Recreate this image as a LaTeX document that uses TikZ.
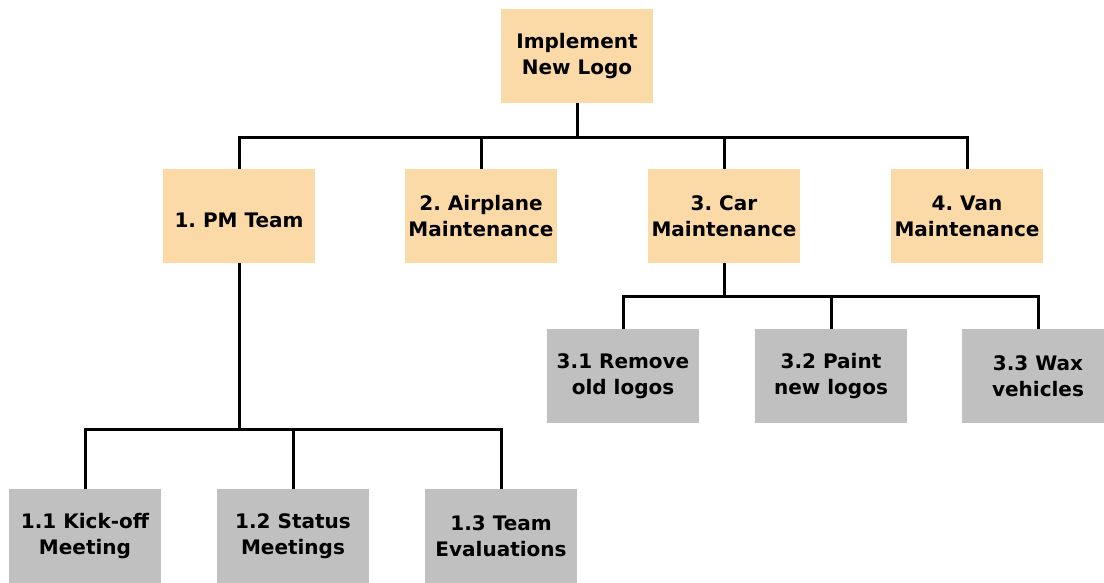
\documentclass[tikz,border=0pt]{standalone}
\usepackage{fontspec}
\setmainfont{DejaVu Sans}
\frenchspacing
\begin{document}
\begin{tikzpicture}[x=1pt,y=-1pt,
  box/.style={minimum width=152pt,minimum height=94pt,inner sep=0pt,
    align=center,font=\fontsize{20}{26}\selectfont\bfseries,
    execute at begin node={\frenchspacing\rule{0pt}{24pt}}},
  topbox/.style={box,fill=tan},
  subbox/.style={box,fill=lightgray},
  link/.style={draw=black,line width=3pt}]
\definecolor{tan}{HTML}{FBDAA7}
\definecolor{lightgray}{HTML}{C0C0C0}
\useasboundingbox (0,0) rectangle (1104,582);
\clip (0,0) rectangle (1104,582);

% root and first level
\node[topbox] (root) at (577,56) {Implement\\New Logo};
\node[topbox] (pm)   at (239,216) {1. PM Team};
\node[topbox] (air)  at (481,216) {2. Airplane\\Maintenance};
\node[topbox] (car)  at (724,216) {3. Car\\Maintenance};
\node[topbox] (van)  at (967,216) {4. Van\\Maintenance};

% car maintenance tasks
\node[subbox] (c1) at (623,376)  {3.1 Remove\\old logos};
\node[subbox] (c2) at (831,376)  {3.2 Paint\\new logos};
\node[subbox] (c3) at (1038,376) {3.3 Wax\\vehicles};

% project management tasks
\node[subbox] (p1) at (85,536)  {1.1 Kick-off\\Meeting};
\node[subbox] (p2) at (293,536) {1.2 Status\\Meetings};
\node[subbox] (p3) at (501,536) {1.3 Team\\Evaluations};

% bus lines
\coordinate (b1) at (0,137);
\coordinate (b2) at (0,296);
\coordinate (b3) at (0,429);

\foreach \c in {pm,air,car,van}
  \draw[link] (root.south) |- (\c.north |- b1) -- (\c.north);
\foreach \c in {c1,c2,c3}
  \draw[link] (car.south) |- (\c.north |- b2) -- (\c.north);
\foreach \c in {p1,p2,p3}
  \draw[link] (pm.south) |- (\c.north |- b3) -- (\c.north);
\end{tikzpicture}
\end{document}
